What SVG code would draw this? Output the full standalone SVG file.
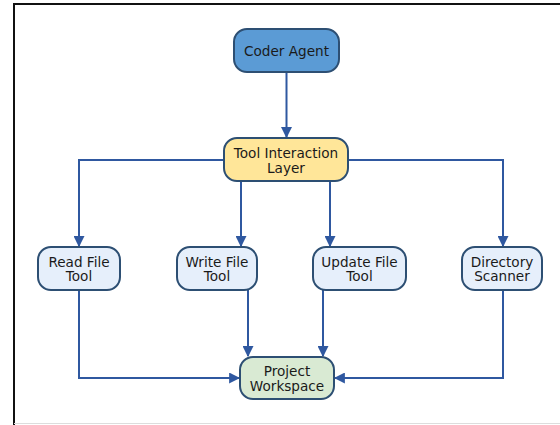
<svg xmlns="http://www.w3.org/2000/svg" width="560" height="425" viewBox="0 0 560 425">
<style>
text{font-family:"DejaVu Sans","Liberation Sans",sans-serif;font-size:13.6px;fill:#1a1a1a;text-anchor:middle;dominant-baseline:central}
.n{stroke:#2d4f73;stroke-width:2}
.c{fill:none;stroke:#2f58a0;stroke-width:2}
</style>
<defs>
<marker id="a" viewBox="0 0 10 10" refX="9" refY="5" markerWidth="5.5" markerHeight="5.5" orient="auto" markerUnits="strokeWidth">
<path d="M0,0 L10,5 L0,10 z" fill="#2f58a0"/>
</marker>
</defs>
<rect x="0" y="0" width="560" height="425" fill="#fff"/>
<path d="M14,425 V4 H560" fill="none" stroke="#111" stroke-width="2"/>
<line x1="14" y1="423.5" x2="560" y2="423.5" stroke="#ddd" stroke-width="1"/>
<g id="connectors">
<path class="c" d="M286.5,72 V137" marker-end="url(#a)"/>
<path class="c" d="M224,160 H79 V246" marker-end="url(#a)"/>
<path class="c" d="M348,160 H503 V246" marker-end="url(#a)"/>
<path class="c" d="M241,181 V246" marker-end="url(#a)"/>
<path class="c" d="M330,181 V246" marker-end="url(#a)"/>
<path class="c" d="M79,290 V378 H239" marker-end="url(#a)"/>
<path class="c" d="M503,290 V378 H335" marker-end="url(#a)"/>
<path class="c" d="M248,290 V356" marker-end="url(#a)"/>
<path class="c" d="M323,290 V356" marker-end="url(#a)"/>
</g>
<g id="coder">
<rect class="n" x="234" y="29" width="105" height="43" rx="13" fill="#5b9bd5"/>
<text x="286.5" y="50.5">Coder Agent</text>
</g>
<g id="layer">
<rect class="n" x="224" y="138" width="124" height="43" rx="13" fill="#ffe699"/>
<text x="286" y="152.5">Tool Interaction</text>
<text x="286" y="167.5">Layer</text>
</g>
<g id="read">
<rect class="n" x="38" y="247" width="82" height="43" rx="13" fill="#e6effb"/>
<text x="79" y="261.5">Read File</text>
<text x="79" y="276">Tool</text>
</g>
<g id="write">
<rect class="n" x="177" y="247" width="80" height="43" rx="13" fill="#e6effb"/>
<text x="217" y="261.5">Write File</text>
<text x="217" y="276">Tool</text>
</g>
<g id="update">
<rect class="n" x="313" y="247" width="93" height="43" rx="13" fill="#e6effb"/>
<text x="359.5" y="261.5">Update File</text>
<text x="359.5" y="276">Tool</text>
</g>
<g id="scanner">
<rect class="n" x="462" y="247" width="80" height="43" rx="13" fill="#e6effb"/>
<text x="502" y="261.5">Directory</text>
<text x="502" y="276">Scanner</text>
</g>
<g id="workspace">
<rect class="n" x="240" y="357" width="94" height="42" rx="13" fill="#d9ead3"/>
<text x="287" y="371">Project</text>
<text x="287" y="386">Workspace</text>
</g>
</svg>
